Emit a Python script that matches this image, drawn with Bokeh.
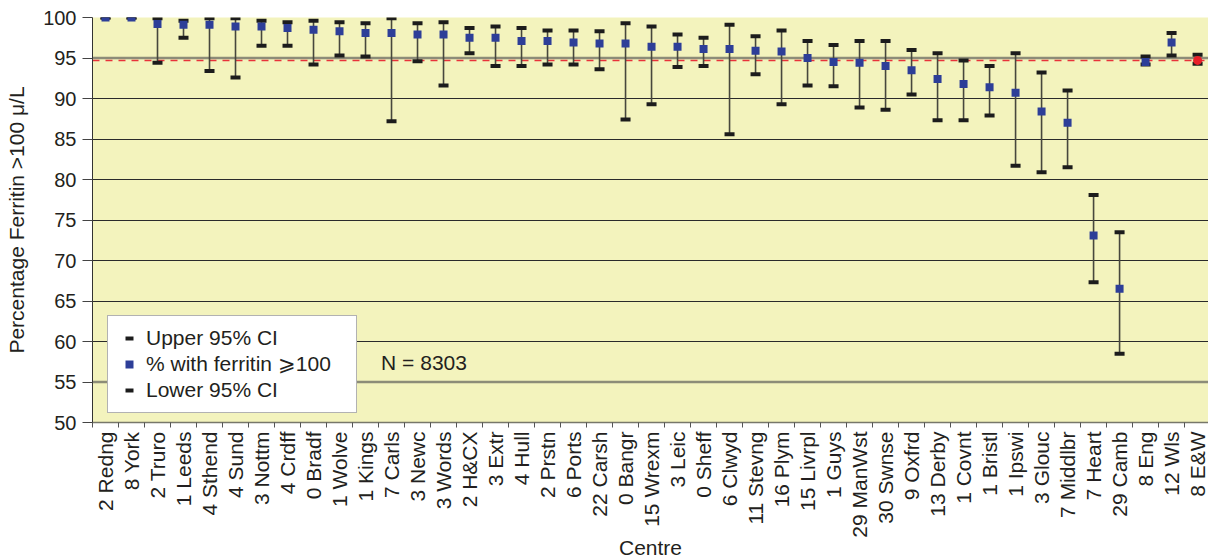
import math
from bokeh.plotting import figure
from bokeh.models import (Range1d, FixedTicker, Span, Label, Legend, LegendItem,
                          ColumnDataSource, CDSView, IndexFilter)
from bokeh.embed import file_html
from bokeh.resources import INLINE

# ---------------- data ----------------
centres = ["2 Redng", "8 York", "2 Truro", "1 Leeds", "4 Sthend", "4 Sund", "3 Nottm",
           "4 Crdff", "0 Bradf", "1 Wolve", "1 Kings", "7 Carls", "3 Newc", "3 Words",
           "2 H&CX", "3 Extr", "4 Hull", "2 Prstn", "6 Ports", "22 Carsh", "0 Bangr",
           "15 Wrexm", "3 Leic", "0 Sheff", "6 Clwyd", "11 Stevng", "16 Plym", "15 Livrpl",
           "1 Guys", "29 ManWst", "30 Swnse", "9 Oxfrd", "13 Derby", "1 Covnt", "1 Bristl",
           "1 Ipswi", "3 Glouc", "7 Middlbr", "7 Heart", "29 Camb", "8 Eng", "12 Wls", "8 E&W"]

pct = [100, 100, 99.2, 99.1, 99.1, 98.9, 98.9, 98.7, 98.5, 98.3, 98.1, 98.1, 97.9, 97.9,
       97.5, 97.5, 97.1, 97.1, 96.9, 96.8, 96.8, 96.4, 96.4, 96.1, 96.1, 95.9, 95.8, 95.0,
       94.5, 94.4, 94.0, 93.5, 92.4, 91.8, 91.4, 90.7, 88.4, 87.0, 73.1, 66.5, 94.5, 96.9, 94.7]

upper = [100, 100, 99.9, 99.6, 99.9, 99.9, 99.6, 99.4, 99.6, 99.4, 99.3, 99.9, 99.3, 99.4,
         98.7, 98.9, 98.7, 98.4, 98.4, 98.3, 99.3, 98.9, 97.9, 97.5, 99.1, 97.7, 98.4, 97.1,
         96.6, 97.1, 97.1, 96.0, 95.6, 94.7, 94.0, 95.6, 93.2, 91.0, 78.1, 73.5, 95.2, 98.1, 95.4]

lower = [100, 100, 94.4, 97.5, 93.4, 92.6, 96.5, 96.5, 94.2, 95.3, 95.2, 87.2, 94.6, 91.6,
         95.6, 94.0, 94.0, 94.2, 94.2, 93.6, 87.4, 89.3, 93.9, 94.0, 85.6, 93.0, 89.3, 91.6,
         91.5, 88.9, 88.6, 90.5, 87.3, 87.3, 87.9, 81.7, 80.9, 81.5, 67.3, 58.5, 94.2, 95.3, 94.3]

ew_average = 94.7
n_total = 8303
y_ticks = [50, 55, 60, 65, 70, 75, 80, 85, 90, 95, 100]

FONT = "Liberation Sans"
TXT = "#231f20"
BLUE = "#2d3e98"

x = list(range(len(centres)))
src = ColumnDataSource(dict(x=x, pct=pct, upper=upper, lower=lower, name=centres))

p = figure(frame_width=1116, frame_height=405,
           x_range=Range1d(-0.5, 42.42), y_range=Range1d(50, 100),
           output_backend="svg", toolbar_location=None,
           min_border_left=92, min_border_right=0, min_border_top=17, min_border_bottom=0)

p.background_fill_color = "#f3f3bd"
p.border_fill_color = "white"
p.outline_line_color = None

# grid
p.xgrid.grid_line_color = None
p.ygrid.ticker = FixedTicker(ticks=y_ticks[1:-1])
p.ygrid.grid_line_color = "#2a2a2a"
p.ygrid.grid_line_width = 1
for v in (55, 95):
    p.add_layout(Span(location=v, dimension="width", line_color="#8c8c78",
                      line_width=2.5, level="underlay"))
p.add_layout(Span(location=ew_average, dimension="width", line_color="#e8323a",
                  line_width=1.5, line_dash="7 6", level="underlay"))

# y axis
yax = p.yaxis[0]
yax.ticker = FixedTicker(ticks=y_ticks)
yax.major_tick_out = 10
yax.major_tick_in = 0
yax.minor_tick_line_color = None
yax.major_tick_line_color = "#444444"
yax.axis_line_color = "#333333"
yax.major_label_text_font = FONT
yax.major_label_text_font_size = "20px"
yax.major_label_text_color = TXT
yax.major_label_standoff = 6
yax.axis_label = "Percentage Ferritin >100 \u03bc/L"
yax.axis_label_text_font = FONT
yax.axis_label_text_font_size = "21px"
yax.axis_label_text_font_style = "normal"
yax.axis_label_text_color = TXT
yax.axis_label_standoff = 12

# x axis
xax = p.xaxis[0]
xax.ticker = FixedTicker(ticks=x, minor_ticks=[i - 0.5 for i in range(len(centres) + 1)])
xax.major_label_overrides = {i: c for i, c in enumerate(centres)}
xax.major_label_orientation = math.pi / 2
xax.major_tick_out = 5
xax.major_tick_in = 0
xax.major_tick_line_color = None
xax.minor_tick_out = 5
xax.minor_tick_in = 0
xax.minor_tick_line_color = "#555555"
xax.axis_line_color = "#77776a"
xax.axis_line_width = 1.5
xax.major_label_text_font = FONT
xax.major_label_text_font_size = "21px"
xax.major_label_text_color = TXT
xax.major_label_standoff = 4
xax.axis_label = "Centre"
xax.axis_label_text_font = FONT
xax.axis_label_text_font_size = "21px"
xax.axis_label_text_font_style = "normal"
xax.axis_label_text_color = TXT
xax.axis_label_standoff = -5

# error bars
p.segment(x0="x", y0="lower", x1="x", y1="upper", source=src,
          line_color="#47473d", line_width=1.6)
r_up = p.scatter(x="x", y="upper", source=src, marker="dash", size=10, line_width=4,
                 line_color="#1c1c1c")
r_lo = p.scatter(x="x", y="lower", source=src, marker="dash", size=10, line_width=4,
                 line_color="#1c1c1c")

n = len(centres)
view_sq = CDSView(filter=IndexFilter(list(range(n - 1))))
view_ew = CDSView(filter=IndexFilter([n - 1]))
r_mid = p.scatter(x="x", y="pct", source=src, view=view_sq, marker="square", size=8,
                  fill_color=BLUE, line_color=None)
p.scatter(x="x", y="pct", source=src, view=view_ew, marker="circle", size=9,
          fill_color="#e8202a", line_color=None)

legend = Legend(items=[LegendItem(label="Upper 95% CI", renderers=[r_up], index=0),
                       LegendItem(label="% with ferritin \u2a7e100", renderers=[r_mid], index=0),
                       LegendItem(label="Lower 95% CI", renderers=[r_lo], index=0)],
                location=(15, 9), margin=0, padding=10, spacing=2,
                glyph_width=22, glyph_height=20, label_height=20, label_width=200,
                label_standoff=6,
                label_text_font=FONT, label_text_font_size="21px", label_text_color=TXT,
                border_line_color="#666666", border_line_width=1,
                background_fill_color="white", background_fill_alpha=1.0)
p.add_layout(legend)

p.add_layout(Label(x=10.6, y=57.4, text=f"N = {n_total}", text_font=FONT,
                   text_font_size="21px", text_color=TXT, text_baseline="middle",
                   text_align="left"))

open("out.html", "w").write(file_html(p, INLINE))
